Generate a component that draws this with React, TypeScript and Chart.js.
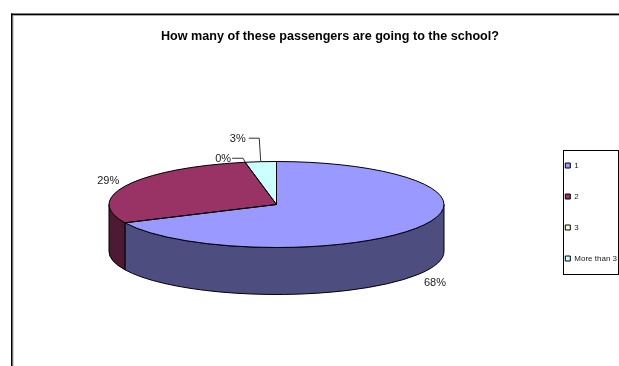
import { useEffect, useRef } from "react";
import { Chart, registerables } from "chart.js";

Chart.register(...registerables);

const categories = ["1", "2", "3", "More than 3"];
const shares = [68, 29, 0, 3];
const faceColors = ["#9999FF", "#993366", "#FFFFCC", "#CCFFFF"];
const wallColors = ["#4D4D80", "#4D1A33", "#808066", "#668080"];
const chartTitle = "How many of these passengers are going to the school?";

// Tilted-disc geometry: horizontal radius, squash factor, wall height
const discCenter = { x: 276.5, y: 204.5 };
const discRadius = 167.5;
const discSquash = 43 / 167.5;
const discDepth = 47;

// Percent label placement relative to each slice's rim midpoint; optional elbow draws a leader
const labelOffsets = [
  { dx: 17, dy: 55 },
  { dx: -19, dy: -4 },
  { dx: -22, dy: -3.5, elbow: [{ dx: -2, dy: -4 }, { dx: -13, dy: -4 }] },
  { dx: -23, dy: -23, elbow: [{ dx: -1.5, dy: -23.5 }, { dx: -12, dy: -23.5 }] },
];

const FONT = '"Liberation Sans", Arial, sans-serif';

const rimPoint = (angle: number) => ({
  x: discCenter.x + discRadius * Math.cos(angle),
  y: discCenter.y + discRadius * discSquash * Math.sin(angle),
});

const ellipsePath = (ctx: CanvasRenderingContext2D, yOff: number, from: number, to: number, ccw = false) => {
  ctx.ellipse(discCenter.x, discCenter.y + yOff, discRadius, discRadius * discSquash, 0, from, to, ccw);
};

const tiltedDisc = {
  id: "tiltedDisc",
  beforeDatasetsDraw(chart: any) {
    const { ctx } = chart;
    const arcs = chart.getDatasetMeta(0).data;

    // Front wall: only the part of each slice facing the viewer
    arcs.forEach((arc: any, i: number) => {
      const from = Math.max(arc.startAngle, 0);
      const to = Math.min(arc.endAngle, Math.PI);
      if (to <= from) return;
      ctx.beginPath();
      ellipsePath(ctx, 0, from, to);
      ellipsePath(ctx, discDepth, to, from, true);
      ctx.closePath();
      ctx.fillStyle = wallColors[i];
      ctx.fill();
      ctx.strokeStyle = "#000";
      ctx.lineWidth = 1;
      ctx.stroke();
    });

    // Squash the library's circular arcs into the tilted top face
    const arc = arcs[0];
    ctx.save();
    ctx.translate(discCenter.x, discCenter.y);
    ctx.scale(1, discSquash);
    ctx.translate(-arc.x, -arc.y);
  },
  afterDatasetsDraw(chart: any) {
    const { ctx } = chart;
    ctx.restore();
    const arcs = chart.getDatasetMeta(0).data;

    // Even-weight outline of each slice on the top face
    ctx.strokeStyle = "#000";
    ctx.lineWidth = 1;
    arcs.forEach((arc: any) => {
      if (arc.endAngle - arc.startAngle <= 0) return;
      ctx.beginPath();
      ctx.moveTo(discCenter.x, discCenter.y);
      ellipsePath(ctx, 0, arc.startAngle, arc.endAngle);
      ctx.closePath();
      ctx.stroke();
    });

    // Percent labels and their leaders
    const total = shares.reduce((a, b) => a + b, 0);
    arcs.forEach((arc: any, i: number) => {
      const mid = rimPoint((arc.startAngle + arc.endAngle) / 2);
      const place = labelOffsets[i];
      if (place.elbow) {
        ctx.beginPath();
        ctx.moveTo(mid.x, mid.y);
        place.elbow.forEach((p) => ctx.lineTo(mid.x + p.dx, mid.y + p.dy));
        ctx.strokeStyle = "#333";
        ctx.lineWidth = 1;
        ctx.stroke();
      }
      ctx.font = `11px ${FONT}`;
      ctx.fillStyle = "#222";
      ctx.textAlign = "center";
      ctx.textBaseline = "middle";
      ctx.fillText(`${Math.round((shares[i] / total) * 100)}%`, mid.x + place.dx, mid.y + place.dy);
    });
  },
  afterDraw(chart: any) {
    const { ctx, width, height, legend } = chart;

    // Page frame along the top and left edges
    ctx.fillStyle = "#aaa";
    ctx.fillRect(12, 15, width - 12, 1);
    ctx.fillRect(12.5, 15, 1, height - 15);
    ctx.fillStyle = "#000";
    ctx.fillRect(11, 13.5, width - 11, 1.5);
    ctx.fillRect(11, 13.5, 1.5, height - 13.5);

    // Box around the legend entries
    const boxes = legend.legendHitBoxes;
    const first = boxes[0];
    const last = boxes[boxes.length - 1];
    ctx.strokeStyle = "#000";
    ctx.lineWidth = 1;
    ctx.strokeRect(
      Math.round(first.left - 2.5) + 0.5,
      Math.round(first.top - 12) + 0.5,
      55,
      Math.round(last.top + last.height + 11 - (first.top - 12)),
    );
  },
};

export default function App() {
  const ref = useRef<HTMLCanvasElement>(null);

  useEffect(() => {
    document.body.style.margin = "0";
    const chart = new Chart(ref.current!, {
      type: "pie",
      data: {
        labels: categories,
        datasets: [
          {
            data: shares,
            backgroundColor: faceColors,
            borderWidth: 0,
            radius: discRadius,
            clip: false,
          } as any,
        ],
      },
      options: {
        responsive: false,
        animation: false,
        layout: { padding: { left: 33, right: -8, top: 0, bottom: -58 } },
        plugins: {
          tooltip: { enabled: false },
          title: {
            display: true,
            text: chartTitle,
            color: "#000",
            font: { family: FONT, size: 12.6, weight: "bold" },
            padding: { top: 28.5, bottom: 15 },
          },
          legend: {
            position: "right",
            labels: {
              boxWidth: 5,
              boxHeight: 5,
              padding: 23,
              color: "#222",
              font: { family: FONT, size: 8 },
              generateLabels(c: any) {
                return (Chart.overrides as any).pie.plugins.legend.labels
                  .generateLabels(c)
                  .map((item: any) => ({ ...item, strokeStyle: "#000", lineWidth: 1 }));
              },
            },
          },
        },
      },
      plugins: [tiltedDisc],
    } as any);
    return () => chart.destroy();
  }, []);

  return <canvas ref={ref} width={619} height={366} style={{ display: "block" }} />;
}
